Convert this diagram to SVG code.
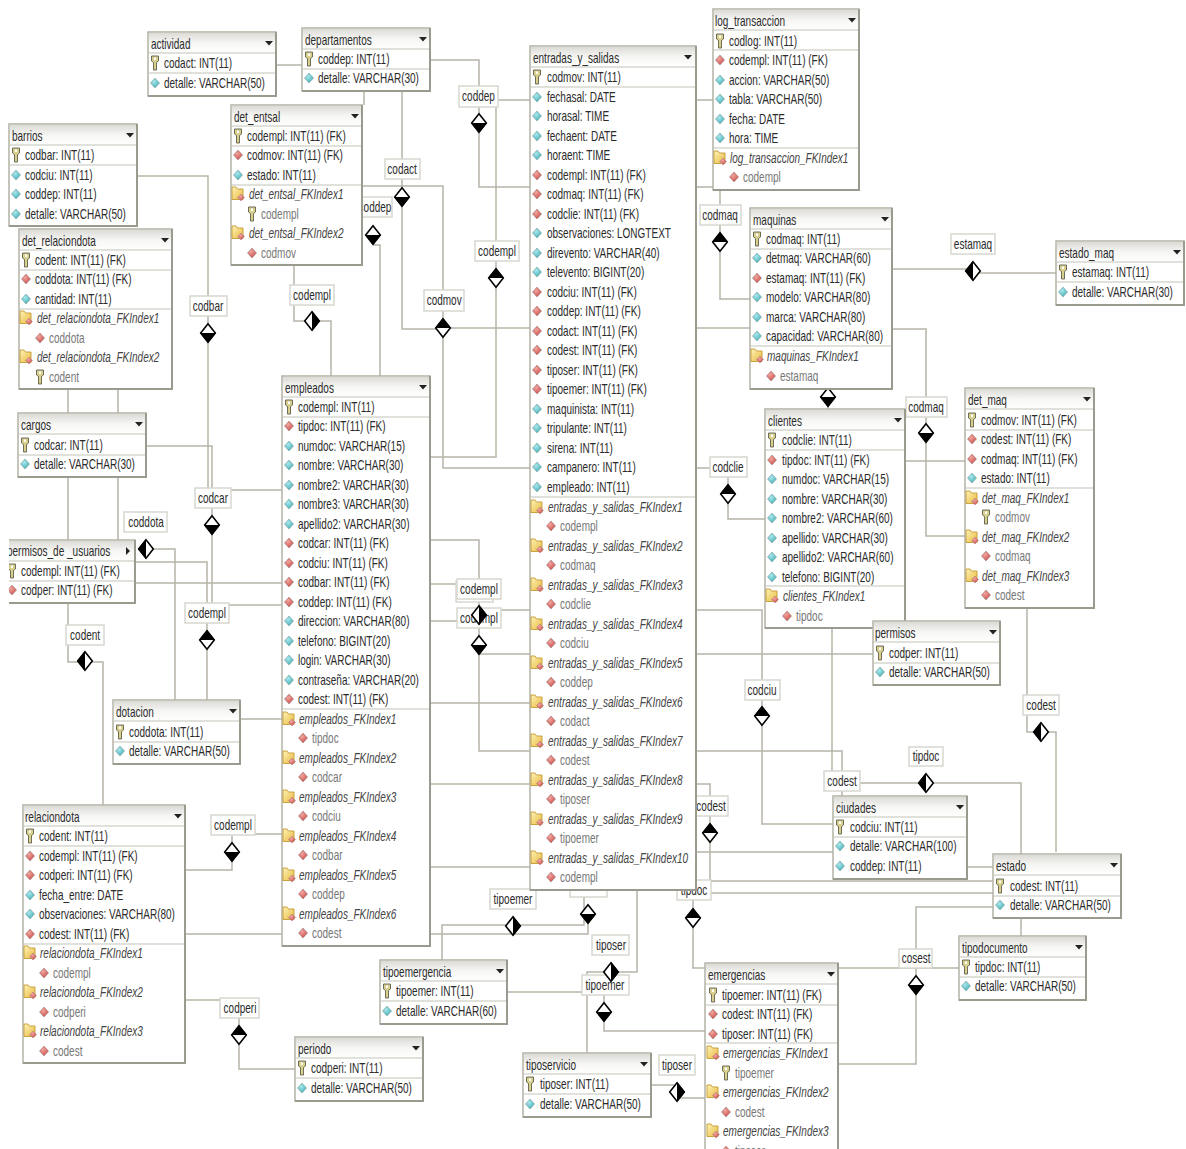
<svg xmlns="http://www.w3.org/2000/svg" width="1186" height="1149" viewBox="0 0 1186 1149">
<style>
text{font-family:"Liberation Sans",Arial,sans-serif;font-size:14px;fill:#2b2b2b;transform-box:fill-box;transform-origin:0 50%;transform:scaleX(.715)}
.l{text-anchor:middle;transform-origin:50% 50%}
.i{font-style:italic;fill:#444}
.m{fill:#777}
.c{fill:none;stroke:#b6b4a8;stroke-width:1.5}
.lb{fill:#fff;stroke:#d8d7cf;stroke-width:1.5}
.b{fill:#fff;stroke:#b3b2a6;stroke-width:1.5}
.h{fill:url(#hg)}
.s{fill:none;stroke:#c4c3b8;stroke-width:1.2}
.e{fill:none;stroke:#9b9a8e;stroke-width:2}
</style>
<defs>
<linearGradient id="hg" x1="0" y1="0" x2="0" y2="1"><stop offset="0" stop-color="#dcdbd6"/><stop offset=".5" stop-color="#f6f6f4"/><stop offset="1" stop-color="#fff"/></linearGradient>
<radialGradient id="cg" cx=".4" cy=".35" r=".8"><stop offset="0" stop-color="#a8e9ed"/><stop offset="1" stop-color="#2fa3ab"/></radialGradient>
<radialGradient id="rg" cx=".4" cy=".35" r=".8"><stop offset="0" stop-color="#f2a6a0"/><stop offset="1" stop-color="#c23c38"/></radialGradient>
<linearGradient id="yg" x1="0" y1="0" x2="1" y2="1"><stop offset="0" stop-color="#fff3b8"/><stop offset="1" stop-color="#e8b93e"/></linearGradient>
<path id="c" d="M0-5 4.500 0 0 5-4.500 0z" fill="url(#cg)" stroke="#8fa9a9" stroke-width=".7"/>
<path id="r" d="M0-5 4.500 0 0 5-4.500 0z" fill="url(#rg)" stroke="#a98f8f" stroke-width=".7"/>
<g id="k"><path d="M-3.500-7h7v5l-2 1.500v7.500h-3v-7.500l-2-1.500z" fill="#d9cf8c" stroke="#5f5f4c" stroke-width=".9"/><path d="M-1-5.500h2v2.500h-2z" fill="#fff"/></g>
<g id="f"><path d="M-6-7h4l1.500 2h5.500v10.500h-11z" fill="url(#yg)" stroke="#c49a32" stroke-width=".9"/><path d="M3 0 6.500 3.500 3 7-.5 3.500z" fill="url(#rg)" stroke="#a98f8f" stroke-width=".5"/></g>
<path id="a" d="M-4-2h8l-4 4.500z" fill="#222"/>
<g id="tb"><path d="M-8 0 0-10 8 0 0 10z" fill="#fff"/><path d="M-8 0H8L0 10z" fill="#000"/><path d="M-7.300 0 0-9.200 7.300 0 0 9.200z" fill="none" stroke="#000" stroke-width="1.600"/></g>
<g id="bt"><path d="M-8 0 0-10 8 0 0 10z" fill="#fff"/><path d="M-8 0H8L0-10z" fill="#000"/><path d="M-7.300 0 0-9.200 7.300 0 0 9.200z" fill="none" stroke="#000" stroke-width="1.600"/></g>
<g id="lr"><path d="M-8 0 0-10 8 0 0 10z" fill="#fff"/><path d="M0-10V10L-8 0z" fill="#000"/><path d="M-7.300 0 0-9.200 7.300 0 0 9.200z" fill="none" stroke="#000" stroke-width="1.600"/></g>
<g id="rl"><path d="M-8 0 0-10 8 0 0 10z" fill="#fff"/><path d="M0-10V10L8 0z" fill="#000"/><path d="M-7.300 0 0-9.200 7.300 0 0 9.200z" fill="none" stroke="#000" stroke-width="1.600"/></g>
</defs>
<rect width="1186" height="1149" fill="#fff"/>

<g id="connectors">
<path class="c" d="M276 65H302"/>
<path class="c" d="M430 60H479V187H530"/>
<path class="c" d="M498 100H530"/>
<path class="c" d="M496 107V457H430"/>
<path class="c" d="M364 91V105"/>
<path class="c" d="M402 91V329H443"/>
<path class="c" d="M362 186H443V468H530"/>
<path class="c" d="M443 328H530"/>
<path class="c" d="M294 265V321H312H331V376"/>
<path class="c" d="M373 245H380V376"/>
<path class="c" d="M137 176H208V488"/>
<path class="c" d="M68 389V413M118 389V413M68 477V540M118 477V540"/>
<path class="c" d="M146 446H212V605H282"/>
<path class="c" d="M231 490H282"/>
<path class="c" d="M146 549H175V700"/>
<path class="c" d="M135 562H207V700"/>
<path class="c" d="M135 583H282"/>
<path class="c" d="M68 603V662H103V805"/>
<path class="c" d="M240 719H282"/>
<path class="c" d="M254 834H282"/>
<path class="c" d="M232 835V870H185"/>
<path class="c" d="M185 934H282M430 934H588V910"/>
<path class="c" d="M185 1000H239V1069H295"/>
<path class="c" d="M430 540H479V751H530"/>
<path class="c" d="M430 584H457M430 621H457M479 610H530M479 654H530"/>
<path class="c" d="M430 703H530M430 784H530M430 867H530"/>
<path class="c" d="M696 100H713M696 187H720V299H750"/>
<path class="c" d="M696 328H750"/>
<path class="c" d="M892 269H973V273H1056"/>
<path class="c" d="M892 329H926V536H965"/>
<path class="c" d="M905 461H965"/>
<path class="c" d="M828 385V409"/>
<path class="c" d="M696 468H728V519H765"/>
<path class="c" d="M696 610H762V824H833"/>
<path class="c" d="M696 654H873"/>
<path class="c" d="M696 751H842V796"/>
<path class="c" d="M832 628V772"/>
<path class="c" d="M860 783H1021V854"/>
<path class="c" d="M1027 608V732H1056V852"/>
<path class="c" d="M967 867H993"/>
<path class="c" d="M696 852H833"/>
<path class="c" d="M696 881H993M696 893H993"/>
<path class="c" d="M993 907H916V1064H838"/>
<path class="c" d="M838 968H959"/>
<path class="c" d="M1021 918V936"/>
<path class="c" d="M696 784H710V890"/>
<path class="c" d="M693 895V968H705"/>
<path class="c" d="M442 960V925H584V890"/>
<path class="c" d="M637 890V972H587V1053"/>
<path class="c" d="M507 992H582"/>
<path class="c" d="M604 990V1031H705"/>
<path class="c" d="M651 1085H677V1098H705"/>

<rect class="lb" x="459" y="86" width="39" height="21"/><text class="l" x="478.500" y="101">coddep</text>
<rect class="lb" x="385" y="159" width="35" height="20"/><text class="l" x="402" y="174">codact</text>
<rect class="lb" x="358" y="197" width="34" height="20"/><text class="l" x="375" y="212">coddep</text>
<rect class="lb" x="290" y="285" width="44" height="20"/><text class="l" x="312" y="300">codempl</text>
<rect class="lb" x="190" y="296" width="37" height="20"/><text class="l" x="208" y="311">codbar</text>
<rect class="lb" x="475" y="241" width="44" height="20"/><text class="l" x="497" y="256">codempl</text>
<rect class="lb" x="424" y="290" width="40" height="21"/><text class="l" x="444" y="305">codmov</text>
<rect class="lb" x="700" y="205" width="41" height="20"/><text class="l" x="720" y="220">codmaq</text>
<rect class="lb" x="951" y="234" width="44" height="20"/><text class="l" x="973" y="249">estamaq</text>
<rect class="lb" x="906" y="397" width="41" height="20"/><text class="l" x="926" y="412">codmaq</text>
<rect class="lb" x="710" y="457" width="37" height="20"/><text class="l" x="728" y="472">codclie</text>
<rect class="lb" x="195" y="488" width="36" height="20"/><text class="l" x="213" y="503">codcar</text>
<rect class="lb" x="124" y="512" width="43" height="20"/><text class="l" x="146" y="527">coddota</text>
<rect class="lb" x="456" y="581" width="37" height="21"/>
<rect class="lb" x="457" y="579" width="44" height="20"/><text class="l" x="479" y="594">codempl</text>
<rect class="lb" x="457" y="608" width="44" height="20"/><text class="l" x="479" y="623">codempl</text>
<rect class="lb" x="185" y="603" width="44" height="20"/><text class="l" x="207" y="618">codempl</text>
<rect class="lb" x="66" y="625" width="38" height="20"/><text class="l" x="85" y="640">codent</text>
<rect class="lb" x="745" y="680" width="35" height="20"/><text class="l" x="762" y="695">codciu</text>
<rect class="lb" x="1023" y="695" width="36" height="20"/><text class="l" x="1041" y="710">codest</text>
<rect class="lb" x="909" y="747" width="34" height="19"/><text class="l" x="926" y="761">tipdoc</text>
<rect class="lb" x="824" y="771" width="36" height="20"/><text class="l" x="842" y="786">codest</text>
<rect class="lb" x="695" y="796" width="33" height="20"/><text class="l" x="711" y="811">codest</text>
<rect class="lb" x="211" y="815" width="44" height="20"/><text class="l" x="233" y="830">codempl</text>
<rect class="lb" x="490" y="889" width="46" height="20"/><text class="l" x="513" y="904">tipoemer</text>
<rect class="lb" x="677" y="880" width="34" height="20"/><text class="l" x="694" y="895">tipdoc</text>
<rect class="lb" x="570" y="880" width="37" height="17"/>
<rect class="lb" x="592" y="935" width="37" height="20"/><text class="l" x="611" y="950">tiposer</text>
<rect class="lb" x="899" y="949" width="33" height="19"/><text class="l" x="916" y="963">cosest</text>
<rect class="lb" x="582" y="975" width="47" height="20"/><text class="l" x="605" y="990">tipoemer</text>
<rect class="lb" x="659" y="1055" width="36" height="20"/><text class="l" x="677" y="1070">tiposer</text>
<rect class="lb" x="220" y="998" width="39" height="20"/><text class="l" x="240" y="1013">codperi</text>

<use href="#tb" x="479" y="123"/>
<use href="#tb" x="402" y="197"/>
<use href="#tb" x="373" y="235"/>
<use href="#rl" x="312" y="321"/>
<use href="#tb" x="208" y="333"/>
<use href="#bt" x="496" y="278"/>
<use href="#bt" x="443" y="328"/>
<use href="#bt" x="720" y="242"/>
<use href="#lr" x="973" y="271"/>
<use href="#tb" x="926" y="433"/>
<use href="#tb" x="828" y="397"/>
<use href="#bt" x="728" y="494"/>
<use href="#tb" x="212" y="525"/>
<use href="#lr" x="146" y="549"/>
<use href="#bt" x="207" y="640"/>
<use href="#lr" x="85" y="661"/>
<use href="#rl" x="479" y="615"/>
<use href="#tb" x="479" y="645"/>
<use href="#bt" x="762" y="716"/>
<use href="#lr" x="1041" y="732"/>
<use href="#lr" x="926" y="783"/>
<use href="#bt" x="710" y="833"/>
<use href="#tb" x="232" y="852"/>
<use href="#bt" x="239" y="1035"/>
<use href="#rl" x="513" y="926"/>
<use href="#tb" x="588" y="914"/>
<use href="#bt" x="693" y="918"/>
<use href="#rl" x="611" y="972"/>
<use href="#tb" x="604" y="1012"/>
<use href="#tb" x="916" y="985"/>
<use href="#rl" x="677" y="1092"/>
</g>

<g id="actividad">
<rect class="b" x="148" y="32" width="128" height="64"/><rect class="h" x="149" y="33" width="126" height="20"/>
<path class="s" d="M148 53H276M148 73H276"/><path class="e" d="M276 32V96H148"/><use href="#a" x="269" y="43"/>
<text x="151" y="49">actividad</text>
<use href="#k" x="155" y="63"/><text x="164" y="68">codact: INT(11)</text>
<use href="#c" x="155" y="83"/><text x="164" y="88">detalle: VARCHAR(50)</text>
</g>

<g id="departamentos">
<rect class="b" x="302" y="28" width="128" height="63"/><rect class="h" x="303" y="29" width="126" height="20"/>
<path class="s" d="M302 49H430M302 69H430"/><path class="e" d="M430 28V91H302"/><use href="#a" x="423" y="39"/>
<text x="305" y="45">departamentos</text>
<use href="#k" x="309" y="59"/><text x="318" y="64">coddep: INT(11)</text>
<use href="#c" x="309" y="78"/><text x="318" y="83">detalle: VARCHAR(30)</text>
</g>

<g id="barrios">
<rect class="b" x="9" y="124" width="128" height="102"/><rect class="h" x="10" y="125" width="126" height="20"/>
<path class="s" d="M9 145H137M9 165H137"/><path class="e" d="M137 124V226H9"/><use href="#a" x="130" y="135"/>
<text x="12" y="141">barrios</text>
<use href="#k" x="16" y="155"/><text x="25" y="160">codbar: INT(11)</text>
<use href="#c" x="16" y="175"/><text x="25" y="180">codciu: INT(11)</text>
<use href="#c" x="16" y="194"/><text x="25" y="199">coddep: INT(11)</text>
<use href="#c" x="16" y="214"/><text x="25" y="219">detalle: VARCHAR(50)</text>
</g>

<g id="det_entsal">
<rect class="b" x="231" y="105" width="131" height="160"/><rect class="h" x="232" y="106" width="129" height="20"/>
<path class="s" d="M231 126H362M231 146H362M231 185H362"/><path class="e" d="M362 105V265H231"/><use href="#a" x="355" y="116"/>
<text x="234" y="122">det_entsal</text>
<use href="#k" x="238" y="136"/><text x="247" y="141">codempl: INT(11) (FK)</text>
<use href="#r" x="238" y="155"/><text x="247" y="160">codmov: INT(11) (FK)</text>
<use href="#c" x="238" y="175"/><text x="247" y="180">estado: INT(11)</text>
<use href="#f" x="238" y="194"/><text class="i" x="249" y="199">det_entsal_FKIndex1</text>
<use href="#k" x="252" y="214"/><text class="m" x="261" y="219">codempl</text>
<use href="#f" x="238" y="233"/><text class="i" x="249" y="238">det_entsal_FKIndex2</text>
<use href="#r" x="252" y="253"/><text class="m" x="261" y="258">codmov</text>
</g>

<g id="det_relaciondota">
<rect class="b" x="19" y="229" width="153" height="160"/><rect class="h" x="20" y="230" width="151" height="20"/>
<path class="s" d="M19 250H172M19 270H172M19 309H172"/><path class="e" d="M172 229V389H19"/><use href="#a" x="165" y="240"/>
<text x="22" y="246">det_relaciondota</text>
<use href="#k" x="26" y="260"/><text x="35" y="265">codent: INT(11) (FK)</text>
<use href="#r" x="26" y="279"/><text x="35" y="284">coddota: INT(11) (FK)</text>
<use href="#c" x="26" y="299"/><text x="35" y="304">cantidad: INT(11)</text>
<use href="#f" x="26" y="318"/><text class="i" x="37" y="323">det_relaciondota_FKIndex1</text>
<use href="#r" x="40" y="338"/><text class="m" x="49" y="343">coddota</text>
<use href="#f" x="26" y="357"/><text class="i" x="37" y="362">det_relaciondota_FKIndex2</text>
<use href="#k" x="40" y="377"/><text class="m" x="49" y="382">codent</text>
</g>

<g id="cargos">
<rect class="b" x="18" y="413" width="128" height="64"/><rect class="h" x="19" y="414" width="126" height="20"/>
<path class="s" d="M18 434H146M18 455H146"/><path class="e" d="M146 413V477H18"/><use href="#a" x="139" y="424"/>
<text x="21" y="430">cargos</text>
<use href="#k" x="25" y="445"/><text x="34" y="450">codcar: INT(11)</text>
<use href="#c" x="25" y="464"/><text x="34" y="469">detalle: VARCHAR(30)</text>
</g>

<g id="permisos_de_usuarios">
<rect class="b" x="5" y="540" width="130" height="63"/><rect class="h" x="6" y="541" width="128" height="20"/>
<path class="s" d="M5 561H135M5 581H135"/><path class="e" d="M135 540V603H5"/><path d="M126 547l4 4-4 4z" fill="#222"/>
<text x="7" y="556">permisos_de _usuarios</text>
<use href="#k" x="12" y="571"/><text x="21" y="576">codempl: INT(11) (FK)</text>
<use href="#r" x="12" y="590"/><text x="21" y="595">codper: INT(11) (FK)</text>
<rect x="0" y="535" width="9" height="72" fill="#fff"/>
</g>

<g id="dotacion">
<rect class="b" x="113" y="700" width="127" height="64"/><rect class="h" x="114" y="701" width="125" height="20"/>
<path class="s" d="M113 721H240M113 742H240"/><path class="e" d="M240 700V764H113"/><use href="#a" x="233" y="711"/>
<text x="116" y="717">dotacion</text>
<use href="#k" x="120" y="732"/><text x="129" y="737">coddota: INT(11)</text>
<use href="#c" x="120" y="751"/><text x="129" y="756">detalle: VARCHAR(50)</text>
</g>

<g id="relaciondota">
<rect class="b" x="23" y="805" width="162" height="258"/><rect class="h" x="24" y="806" width="160" height="20"/>
<path class="s" d="M23 826H185M23 846H185M23 944H185"/><path class="e" d="M185 805V1063H23"/><use href="#a" x="178" y="816"/>
<text x="25" y="822">relaciondota</text>
<use href="#k" x="30" y="836"/><text x="39" y="841">codent: INT(11)</text>
<use href="#r" x="30" y="856"/><text x="39" y="861">codempl: INT(11) (FK)</text>
<use href="#r" x="30" y="875"/><text x="39" y="880">codperi: INT(11) (FK)</text>
<use href="#c" x="30" y="895"/><text x="39" y="900">fecha_entre: DATE</text>
<use href="#c" x="30" y="914"/><text x="39" y="919">observaciones: VARCHAR(80)</text>
<use href="#r" x="30" y="934"/><text x="39" y="939">codest: INT(11) (FK)</text>
<use href="#f" x="30" y="953"/><text class="i" x="40" y="958">relaciondota_FKIndex1</text>
<use href="#r" x="44" y="973"/><text class="m" x="53" y="978">codempl</text>
<use href="#f" x="30" y="992"/><text class="i" x="40" y="997">relaciondota_FKIndex2</text>
<use href="#r" x="44" y="1012"/><text class="m" x="53" y="1017">codperi</text>
<use href="#f" x="30" y="1031"/><text class="i" x="40" y="1036">relaciondota_FKIndex3</text>
<use href="#r" x="44" y="1051"/><text class="m" x="53" y="1056">codest</text>
</g>

<g id="empleados">
<rect class="b" x="282" y="376" width="148" height="570"/><rect class="h" x="283" y="377" width="146" height="20"/>
<path class="s" d="M282 397H430M282 417H430M282 709H430"/><path class="e" d="M430 376V946H282"/><use href="#a" x="423" y="387"/>
<text x="285" y="393">empleados</text>
<use href="#k" x="289" y="407"/><text x="298" y="412">codempl: INT(11)</text>
<use href="#r" x="289" y="426"/><text x="298" y="431">tipdoc: INT(11) (FK)</text>
<use href="#c" x="289" y="446"/><text x="298" y="451">numdoc: VARCHAR(15)</text>
<use href="#c" x="289" y="465"/><text x="298" y="470">nombre: VARCHAR(30)</text>
<use href="#c" x="289" y="485"/><text x="298" y="490">nombre2: VARCHAR(30)</text>
<use href="#c" x="289" y="504"/><text x="298" y="509">nombre3: VARCHAR(30)</text>
<use href="#c" x="289" y="524"/><text x="298" y="529">apellido2: VARCHAR(30)</text>
<use href="#r" x="289" y="543"/><text x="298" y="548">codcar: INT(11) (FK)</text>
<use href="#r" x="289" y="563"/><text x="298" y="568">codciu: INT(11) (FK)</text>
<use href="#r" x="289" y="582"/><text x="298" y="587">codbar: INT(11) (FK)</text>
<use href="#r" x="289" y="602"/><text x="298" y="607">coddep: INT(11) (FK)</text>
<use href="#c" x="289" y="621"/><text x="298" y="626">direccion: VARCHAR(80)</text>
<use href="#c" x="289" y="641"/><text x="298" y="646">telefono: BIGINT(20)</text>
<use href="#c" x="289" y="660"/><text x="298" y="665">login: VARCHAR(30)</text>
<use href="#c" x="289" y="680"/><text x="298" y="685">contraseña: VARCHAR(20)</text>
<use href="#r" x="289" y="699"/><text x="298" y="704">codest: INT(11) (FK)</text>
<use href="#f" x="289" y="719"/><text class="i" x="299" y="724">empleados_FKIndex1</text>
<use href="#r" x="303" y="738"/><text class="m" x="312" y="743">tipdoc</text>
<use href="#f" x="289" y="758"/><text class="i" x="299" y="763">empleados_FKIndex2</text>
<use href="#r" x="303" y="777"/><text class="m" x="312" y="782">codcar</text>
<use href="#f" x="289" y="797"/><text class="i" x="299" y="802">empleados_FKIndex3</text>
<use href="#r" x="303" y="816"/><text class="m" x="312" y="821">codciu</text>
<use href="#f" x="289" y="836"/><text class="i" x="299" y="841">empleados_FKIndex4</text>
<use href="#r" x="303" y="855"/><text class="m" x="312" y="860">codbar</text>
<use href="#f" x="289" y="875"/><text class="i" x="299" y="880">empleados_FKIndex5</text>
<use href="#r" x="303" y="894"/><text class="m" x="312" y="899">coddep</text>
<use href="#f" x="289" y="914"/><text class="i" x="299" y="919">empleados_FKIndex6</text>
<use href="#r" x="303" y="933"/><text class="m" x="312" y="938">codest</text>
</g>

<g id="entradas_y_salidas">
<rect class="b" x="530" y="46" width="166" height="844"/><rect class="h" x="531" y="47" width="164" height="20"/>
<path class="s" d="M530 67H696M530 87H696M530 497H696"/><path class="e" d="M696 46V890H530"/><use href="#a" x="688" y="57"/>
<text x="533" y="63">entradas_y_salidas</text>
<use href="#k" x="537" y="77"/><text x="547" y="82">codmov: INT(11)</text>
<use href="#c" x="537" y="97"/><text x="547" y="102">fechasal: DATE</text>
<use href="#c" x="537" y="116"/><text x="547" y="121">horasal: TIME</text>
<use href="#c" x="537" y="136"/><text x="547" y="141">fechaent: DATE</text>
<use href="#c" x="537" y="155"/><text x="547" y="160">horaent: TIME</text>
<use href="#r" x="537" y="175"/><text x="547" y="180">codempl: INT(11) (FK)</text>
<use href="#r" x="537" y="194"/><text x="547" y="199">codmaq: INT(11) (FK)</text>
<use href="#r" x="537" y="214"/><text x="547" y="219">codclie: INT(11) (FK)</text>
<use href="#c" x="537" y="233"/><text x="547" y="238">observaciones: LONGTEXT</text>
<use href="#c" x="537" y="253"/><text x="547" y="258">direvento: VARCHAR(40)</text>
<use href="#c" x="537" y="272"/><text x="547" y="277">televento: BIGINT(20)</text>
<use href="#r" x="537" y="292"/><text x="547" y="297">codciu: INT(11) (FK)</text>
<use href="#r" x="537" y="311"/><text x="547" y="316">coddep: INT(11) (FK)</text>
<use href="#r" x="537" y="331"/><text x="547" y="336">codact: INT(11) (FK)</text>
<use href="#r" x="537" y="350"/><text x="547" y="355">codest: INT(11) (FK)</text>
<use href="#r" x="537" y="370"/><text x="547" y="375">tiposer: INT(11) (FK)</text>
<use href="#r" x="537" y="389"/><text x="547" y="394">tipoemer: INT(11) (FK)</text>
<use href="#c" x="537" y="409"/><text x="547" y="414">maquinista: INT(11)</text>
<use href="#c" x="537" y="428"/><text x="547" y="433">tripulante: INT(11)</text>
<use href="#c" x="537" y="448"/><text x="547" y="453">sirena: INT(11)</text>
<use href="#c" x="537" y="467"/><text x="547" y="472">campanero: INT(11)</text>
<use href="#c" x="537" y="487"/><text x="547" y="492">empleado: INT(11)</text>
<use href="#f" x="537" y="507"/><text class="i" x="548" y="512">entradas_y_salidas_FKIndex1</text>
<use href="#r" x="551" y="526"/><text class="m" x="560" y="531">codempl</text>
<use href="#f" x="537" y="546"/><text class="i" x="548" y="551">entradas_y_salidas_FKIndex2</text>
<use href="#r" x="551" y="565"/><text class="m" x="560" y="570">codmaq</text>
<use href="#f" x="537" y="585"/><text class="i" x="548" y="590">entradas_y_salidas_FKIndex3</text>
<use href="#r" x="551" y="604"/><text class="m" x="560" y="609">codclie</text>
<use href="#f" x="537" y="624"/><text class="i" x="548" y="629">entradas_y_salidas_FKIndex4</text>
<use href="#r" x="551" y="643"/><text class="m" x="560" y="648">codciu</text>
<use href="#f" x="537" y="663"/><text class="i" x="548" y="668">entradas_y_salidas_FKIndex5</text>
<use href="#r" x="551" y="682"/><text class="m" x="560" y="687">coddep</text>
<use href="#f" x="537" y="702"/><text class="i" x="548" y="707">entradas_y_salidas_FKIndex6</text>
<use href="#r" x="551" y="721"/><text class="m" x="560" y="726">codact</text>
<use href="#f" x="537" y="741"/><text class="i" x="548" y="746">entradas_y_salidas_FKIndex7</text>
<use href="#r" x="551" y="760"/><text class="m" x="560" y="765">codest</text>
<use href="#f" x="537" y="780"/><text class="i" x="548" y="785">entradas_y_salidas_FKIndex8</text>
<use href="#r" x="551" y="799"/><text class="m" x="560" y="804">tiposer</text>
<use href="#f" x="537" y="819"/><text class="i" x="548" y="824">entradas_y_salidas_FKIndex9</text>
<use href="#r" x="551" y="838"/><text class="m" x="560" y="843">tipoemer</text>
<use href="#f" x="537" y="858"/><text class="i" x="548" y="863">entradas_y_salidas_FKIndex10</text>
<use href="#r" x="551" y="877"/><text class="m" x="560" y="882">codempl</text>
</g>

<g id="log_transaccion">
<rect class="b" x="713" y="9" width="146" height="181"/><rect class="h" x="714" y="10" width="144" height="20"/>
<path class="s" d="M713 30H859M713 50H859M713 148H859"/><path class="e" d="M859 9V190H713"/><use href="#a" x="852" y="20"/>
<text x="715" y="26">log_transaccion</text>
<use href="#k" x="720" y="41"/><text x="729" y="46">codlog: INT(11)</text>
<use href="#r" x="720" y="60"/><text x="729" y="65">codempl: INT(11) (FK)</text>
<use href="#c" x="720" y="80"/><text x="729" y="85">accion: VARCHAR(50)</text>
<use href="#c" x="720" y="99"/><text x="729" y="104">tabla: VARCHAR(50)</text>
<use href="#c" x="720" y="119"/><text x="729" y="124">fecha: DATE</text>
<use href="#c" x="720" y="138"/><text x="729" y="143">hora: TIME</text>
<use href="#f" x="720" y="158"/><text class="i" x="730" y="163">log_transaccion_FKIndex1</text>
<use href="#r" x="734" y="177"/><text class="m" x="743" y="182">codempl</text>
</g>

<g id="maquinas">
<rect class="b" x="750" y="208" width="142" height="181"/><rect class="h" x="751" y="209" width="140" height="20"/>
<path class="s" d="M750 229H892M750 249H892M750 346H892"/><path class="e" d="M892 208V389H750"/><use href="#a" x="885" y="219"/>
<text x="753" y="225">maquinas</text>
<use href="#k" x="757" y="239"/><text x="766" y="244">codmaq: INT(11)</text>
<use href="#c" x="757" y="258"/><text x="766" y="263">detmaq: VARCHAR(60)</text>
<use href="#r" x="757" y="278"/><text x="766" y="283">estamaq: INT(11) (FK)</text>
<use href="#c" x="757" y="297"/><text x="766" y="302">modelo: VARCHAR(80)</text>
<use href="#c" x="757" y="317"/><text x="766" y="322">marca: VARCHAR(80)</text>
<use href="#c" x="757" y="336"/><text x="766" y="341">capacidad: VARCHAR(80)</text>
<use href="#f" x="757" y="356"/><text class="i" x="767" y="361">maquinas_FKIndex1</text>
<use href="#r" x="771" y="376"/><text class="m" x="780" y="381">estamaq</text>
</g>

<g id="estado_maq">
<rect class="b" x="1056" y="241" width="128" height="64"/><rect class="h" x="1057" y="242" width="126" height="20"/>
<path class="s" d="M1056 262H1184M1056 282H1184"/><path class="e" d="M1184 241V305H1056"/><use href="#a" x="1177" y="252"/>
<text x="1059" y="258">estado_maq</text>
<use href="#k" x="1063" y="272"/><text x="1072" y="277">estamaq: INT(11)</text>
<use href="#c" x="1063" y="292"/><text x="1072" y="297">detalle: VARCHAR(30)</text>
</g>

<g id="clientes">
<rect class="b" x="765" y="409" width="140" height="219"/><rect class="h" x="766" y="410" width="138" height="20"/>
<path class="s" d="M765 430H905M765 450H905M765 586H905"/><path class="e" d="M905 409V628H765"/><use href="#a" x="898" y="420"/>
<text x="768" y="426">clientes</text>
<use href="#k" x="772" y="440"/><text x="782" y="445">codclie: INT(11)</text>
<use href="#r" x="772" y="460"/><text x="782" y="465">tipdoc: INT(11) (FK)</text>
<use href="#c" x="772" y="479"/><text x="782" y="484">numdoc: VARCHAR(15)</text>
<use href="#c" x="772" y="499"/><text x="782" y="504">nombre: VARCHAR(30)</text>
<use href="#c" x="772" y="518"/><text x="782" y="523">nombre2: VARCHAR(60)</text>
<use href="#c" x="772" y="538"/><text x="782" y="543">apellido: VARCHAR(30)</text>
<use href="#c" x="772" y="557"/><text x="782" y="562">apellido2: VARCHAR(60)</text>
<use href="#c" x="772" y="577"/><text x="782" y="582">telefono: BIGINT(20)</text>
<use href="#f" x="772" y="596"/><text class="i" x="783" y="601">clientes_FKIndex1</text>
<use href="#r" x="787" y="616"/><text class="m" x="796" y="621">tipdoc</text>
</g>

<g id="det_maq">
<rect class="b" x="965" y="388" width="129" height="220"/><rect class="h" x="966" y="389" width="127" height="20"/>
<path class="s" d="M965 409H1094M965 430H1094M965 488H1094"/><path class="e" d="M1094 388V608H965"/><use href="#a" x="1087" y="399"/>
<text x="968" y="405">det_maq</text>
<use href="#k" x="972" y="420"/><text x="981" y="425">codmov: INT(11) (FK)</text>
<use href="#r" x="972" y="439"/><text x="981" y="444">codest: INT(11) (FK)</text>
<use href="#r" x="972" y="459"/><text x="981" y="464">codmaq: INT(11) (FK)</text>
<use href="#c" x="972" y="478"/><text x="981" y="483">estado: INT(11)</text>
<use href="#f" x="972" y="498"/><text class="i" x="982" y="503">det_maq_FKIndex1</text>
<use href="#k" x="986" y="517"/><text class="m" x="995" y="522">codmov</text>
<use href="#f" x="972" y="537"/><text class="i" x="982" y="542">det_maq_FKIndex2</text>
<use href="#r" x="986" y="556"/><text class="m" x="995" y="561">codmaq</text>
<use href="#f" x="972" y="576"/><text class="i" x="982" y="581">det_maq_FKIndex3</text>
<use href="#r" x="986" y="595"/><text class="m" x="995" y="600">codest</text>
</g>

<g id="permisos">
<rect class="b" x="873" y="621" width="127" height="64"/><rect class="h" x="874" y="622" width="125" height="20"/>
<path class="s" d="M873 642H1000M873 663H1000"/><path class="e" d="M1000 621V685H873"/><use href="#a" x="993" y="632"/>
<text x="875" y="638">permisos</text>
<use href="#k" x="880" y="653"/><text x="889" y="658">codper: INT(11)</text>
<use href="#c" x="880" y="672"/><text x="889" y="677">detalle: VARCHAR(50)</text>
</g>

<g id="ciudades">
<rect class="b" x="833" y="796" width="134" height="83"/><rect class="h" x="834" y="797" width="132" height="20"/>
<path class="s" d="M833 817H967M833 837H967"/><path class="e" d="M967 796V879H833"/><use href="#a" x="960" y="807"/>
<text x="836" y="813">ciudades</text>
<use href="#k" x="840" y="827"/><text x="850" y="832">codciu: INT(11)</text>
<use href="#c" x="840" y="846"/><text x="850" y="851">detalle: VARCHAR(100)</text>
<use href="#c" x="840" y="866"/><text x="850" y="871">coddep: INT(11)</text>
</g>

<g id="estado">
<rect class="b" x="993" y="854" width="128" height="64"/><rect class="h" x="994" y="855" width="126" height="20"/>
<path class="s" d="M993 875H1121M993 896H1121"/><path class="e" d="M1121 854V918H993"/><use href="#a" x="1114" y="865"/>
<text x="996" y="871">estado</text>
<use href="#k" x="1000" y="886"/><text x="1010" y="891">codest: INT(11)</text>
<use href="#c" x="1000" y="905"/><text x="1010" y="910">detalle: VARCHAR(50)</text>
</g>

<g id="tipodocumento">
<rect class="b" x="959" y="936" width="127" height="64"/><rect class="h" x="960" y="937" width="125" height="20"/>
<path class="s" d="M959 957H1086M959 977H1086"/><path class="e" d="M1086 936V1000H959"/><use href="#a" x="1079" y="947"/>
<text x="962" y="953">tipodocumento</text>
<use href="#k" x="966" y="967"/><text x="975" y="972">tipdoc: INT(11)</text>
<use href="#c" x="966" y="986"/><text x="975" y="991">detalle: VARCHAR(50)</text>
</g>

<g id="tipoemergencia">
<rect class="b" x="380" y="960" width="127" height="64"/><rect class="h" x="381" y="961" width="125" height="20"/>
<path class="s" d="M380 981H507M380 1001H507"/><path class="e" d="M507 960V1024H380"/><use href="#a" x="500" y="971"/>
<text x="383" y="977">tipoemergencia</text>
<use href="#k" x="387" y="991"/><text x="396" y="996">tipoemer: INT(11)</text>
<use href="#c" x="387" y="1011"/><text x="396" y="1016">detalle: VARCHAR(60)</text>
</g>

<g id="periodo">
<rect class="b" x="295" y="1037" width="128" height="64"/><rect class="h" x="296" y="1038" width="126" height="20"/>
<path class="s" d="M295 1058H423M295 1078H423"/><path class="e" d="M423 1037V1101H295"/><use href="#a" x="416" y="1048"/>
<text x="298" y="1054">periodo</text>
<use href="#k" x="302" y="1068"/><text x="311" y="1073">codperi: INT(11)</text>
<use href="#c" x="302" y="1088"/><text x="311" y="1093">detalle: VARCHAR(50)</text>
</g>

<g id="tiposervicio">
<rect class="b" x="523" y="1053" width="128" height="64"/><rect class="h" x="524" y="1054" width="126" height="20"/>
<path class="s" d="M523 1074H651M523 1094H651"/><path class="e" d="M651 1053V1117H523"/><use href="#a" x="644" y="1064"/>
<text x="526" y="1070">tiposervicio</text>
<use href="#k" x="530" y="1084"/><text x="540" y="1089">tiposer: INT(11)</text>
<use href="#c" x="530" y="1104"/><text x="540" y="1109">detalle: VARCHAR(50)</text>
</g>

<g id="emergencias">
<rect class="b" x="705" y="963" width="133" height="200"/><rect class="h" x="706" y="964" width="131" height="20"/>
<path class="s" d="M705 984H838M705 1005H838M705 1043H838"/><path class="e" d="M838 963V1163"/><use href="#a" x="831" y="974"/>
<text x="708" y="980">emergencias</text>
<use href="#k" x="713" y="995"/><text x="722" y="1000">tipoemer: INT(11) (FK)</text>
<use href="#r" x="713" y="1014"/><text x="722" y="1019">codest: INT(11) (FK)</text>
<use href="#r" x="713" y="1034"/><text x="722" y="1039">tiposer: INT(11) (FK)</text>
<use href="#f" x="713" y="1053"/><text class="i" x="723" y="1058">emergencias_FKIndex1</text>
<use href="#k" x="726" y="1073"/><text class="m" x="735" y="1078">tipoemer</text>
<use href="#f" x="713" y="1092"/><text class="i" x="723" y="1097">emergencias_FKIndex2</text>
<use href="#r" x="726" y="1112"/><text class="m" x="735" y="1117">codest</text>
<use href="#f" x="713" y="1131"/><text class="i" x="723" y="1136">emergencias_FKIndex3</text>
<use href="#r" x="726" y="1151"/><text class="m" x="735" y="1156">tiposer</text>
</g>
</svg>
